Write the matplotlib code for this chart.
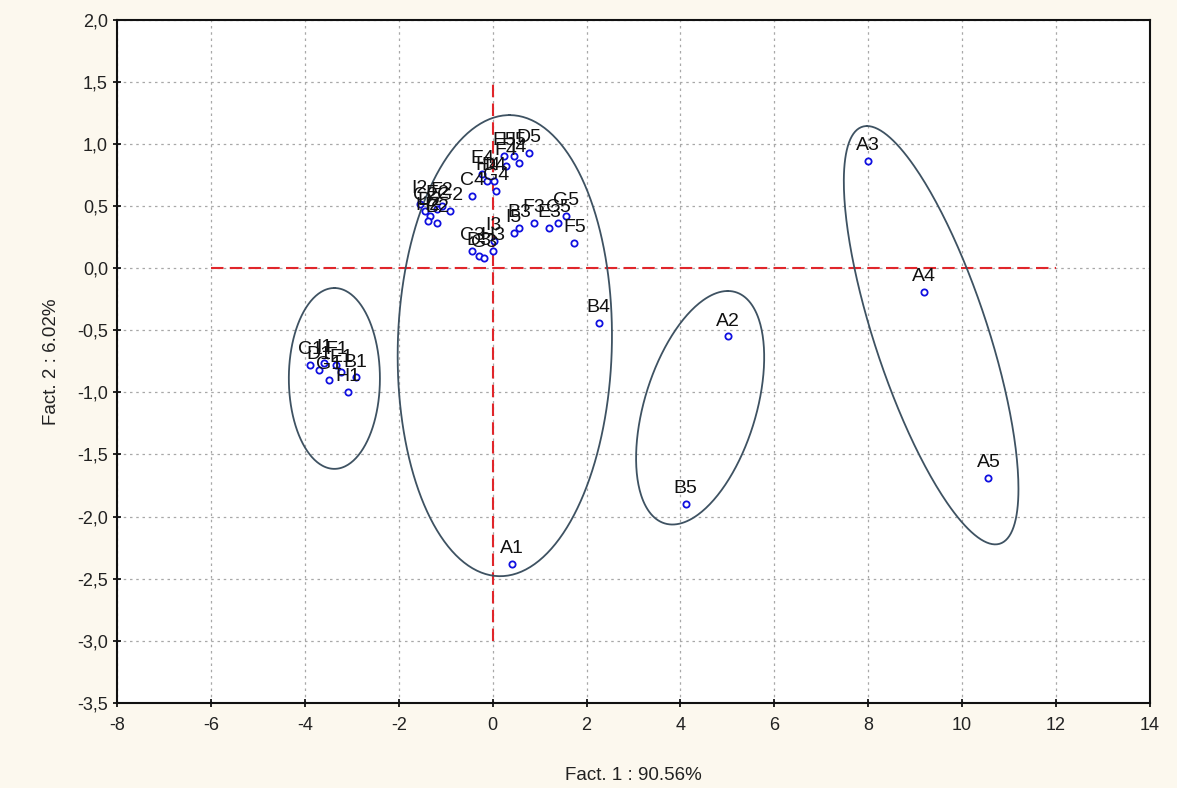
import numpy as np
import matplotlib.pyplot as plt
from matplotlib.ticker import FuncFormatter

# Puntos outliers (grupo A y B4, B5)
out_labels = ['A1', 'A2', 'A3', 'A4', 'A5', 'B4', 'B5']
out_x = [0.41, 5.01, 8.00, 9.18, 10.56, 2.26, 4.11]
out_y = [-2.38, -0.55, 0.86, -0.19, -1.69, -0.44, -1.90]

# Grupo de la izquierda (muestras 1)
left_labels = ['C1', 'D1', 'G1', 'F1', 'E1', 'B1', 'H1', 'I1']
left_x = [-3.89, -3.70, -3.48, -3.33, -3.23, -2.92, -3.08, -3.59]
left_y = [-0.78, -0.82, -0.90, -0.78, -0.84, -0.88, -1.00, -0.76]

# Grupo central (muestras 2-5)
mid_labels = ['B2', 'C2', 'D2', 'E2', 'F2', 'G2', 'H2', 'I2',
              'C3', 'D3', 'G3', 'H3', 'I3',
              'E4', 'H4', 'D4', 'G4', 'C4',
              'E5', 'H5', 'D5', 'F4', 'I4',
              'G5', 'C5', 'F5', 'E3', 'F3', 'B3', 'I5']
mid_x = [-1.18, -1.44, -1.33, -1.18, -1.08, -0.90, -1.38, -1.55,
         -0.43, -0.30, -0.19, 0.00, 0.02,
         -0.22, -0.11, 0.02, 0.07, -0.43,
         0.24, 0.45, 0.77, 0.28, 0.56,
         1.57, 1.40, 1.74, 1.20, 0.88, 0.56, 0.45]
mid_y = [0.36, 0.46, 0.42, 0.48, 0.50, 0.46, 0.38, 0.52,
         0.14, 0.10, 0.08, 0.14, 0.22,
         0.76, 0.70, 0.70, 0.62, 0.58,
         0.90, 0.90, 0.93, 0.82, 0.85,
         0.42, 0.36, 0.20, 0.32, 0.36, 0.32, 0.28]

# Elipses: centro, semi-diametros conjugados (u, v)
ellipses = [
    ((-3.37, -0.888), (0.0, 0.728), (0.97, 0.0)),
    ((0.26, -0.624), (0.10, 1.856), (2.28, 0.0)),
    ((4.42, -1.124), (0.59, 0.94), (1.23, 0.0)),
    ((9.34, -0.54), (-1.366, 1.684), (1.262, 0.0)),
]


def plot_factors():
    plt.rcParams['font.family'] = ['Liberation Sans', 'DejaVu Sans']
    plt.rcParams['axes.unicode_minus'] = False

    fig = plt.figure(figsize=(11.77, 7.88), dpi=100, facecolor='#fcf8ee')
    ax = fig.add_axes([0.0994, 0.108, 0.8776, 0.867])
    ax.set_facecolor('white')

    # Lineas de referencia rojas
    ax.plot([0, 0], [-3.0, 1.5], color='#e0262b', ls=(0, (6, 3)), lw=1.5, zorder=2)
    ax.plot([-6, 12], [0, 0], color='#e0262b', ls=(0, (6, 3)), lw=1.5, zorder=2)

    # Elipses
    t = np.linspace(0, 2 * np.pi, 300)
    for (cx, cy), (ux, uy), (vx, vy) in ellipses:
        ex = cx + ux * np.cos(t) + vx * np.sin(t)
        ey = cy + uy * np.cos(t) + vy * np.sin(t)
        ax.plot(ex, ey, color='#3e5262', lw=1.3, zorder=3)

    # Puntos y etiquetas
    all_labels = out_labels + left_labels + mid_labels
    all_x = out_x + left_x + mid_x
    all_y = out_y + left_y + mid_y
    ax.plot(all_x, all_y, 'o', ms=4.5, mfc='white', mec='#1010e0', mew=1.3, zorder=4)
    for lab, x, y in zip(all_labels, all_x, all_y):
        ax.annotate(lab, (x, y), xytext=(0, 5), textcoords='offset points',
                    ha='center', va='bottom', fontsize=14, color='#111111', zorder=5)

    ax.set_xlim(-8, 14)
    ax.set_ylim(-3.5, 2.0)
    ax.set_xticks(np.arange(-8, 15, 2))
    ax.set_yticks(np.arange(-3.5, 2.01, 0.5))
    ax.yaxis.set_major_formatter(FuncFormatter(lambda v, p: f'{v:.1f}'.replace('.', ',')))
    ax.tick_params(direction='inout', length=6, width=1.2, labelsize=13,
                   colors='black', labelcolor='#222222')
    ax.tick_params(axis='x', pad=7)

    ax.grid(True, color='#a8a8a8', ls=(0, (2, 3)), lw=0.9)
    for s in ax.spines.values():
        s.set_linewidth(1.5)
        s.set_color('#111111')

    ax.set_xlabel('Fact. 1 : 90.56%', fontsize=13.5, color='#222222', labelpad=24)
    ax.set_ylabel('Fact. 2 : 6.02%', fontsize=13.5, color='#222222', labelpad=12)

    fig.savefig('out.png', dpi=100, facecolor=fig.get_facecolor())


if __name__ == "__main__":
    plot_factors()
